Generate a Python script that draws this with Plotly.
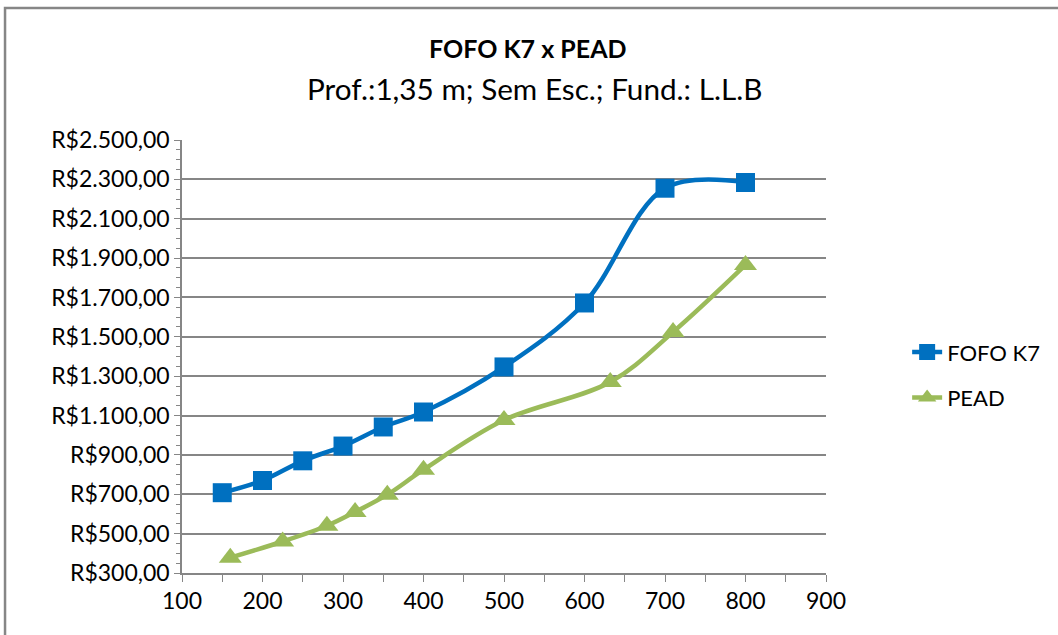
import plotly.graph_objects as go

fofo_x = [150, 200, 250, 300, 350, 400, 500, 600, 700, 800]
fofo_y = [708, 770, 870, 945, 1042, 1118, 1347, 1672, 2255, 2284]
pead_x = [160, 225, 280, 315, 355, 400, 500, 632, 710, 800]
pead_y = [378, 460, 540, 610, 698, 825, 1077, 1270, 1524, 1865]

y_ticks = list(range(300, 2501, 200))
y_labels = ["R$" + f"{v:,}".replace(",", ".") + ",00" for v in y_ticks]
x_ticks = list(range(100, 901, 100))

FONT = "Lato"
fig = go.Figure()
fig.add_trace(go.Scatter(
    x=fofo_x, y=fofo_y, name="FOFO K7", mode="lines+markers", legendgroup="a",
    line=dict(color="#0070C0", width=4.5, shape="spline", smoothing=1.0),
    marker=dict(symbol="square", size=19, color="#0070C0"),
))
fig.add_trace(go.Scatter(
    x=pead_x, y=pead_y, name="PEAD", mode="lines+markers", legendgroup="b",
    line=dict(color="#9BBB59", width=4.5, shape="spline", smoothing=1.0),
    marker=dict(symbol="triangle-up", size=20, color="#9BBB59"),
))

grid = "#868686"
fig.update_layout(
    width=1058, height=635,
    margin=dict(l=182, r=232, t=140, b=62),
    paper_bgcolor="white", plot_bgcolor="white",
    font=dict(family=FONT, size=22, color="black"),
    showlegend=True,
    legend=dict(x=1.126, y=0.457, xanchor="left", yanchor="middle",
                font=dict(family=FONT, size=22), traceorder="grouped",
                tracegroupgap=14, bgcolor="rgba(0,0,0,0)"),
    xaxis=dict(range=[100, 900], tickvals=x_ticks, showgrid=False,
               showline=True, linecolor=grid, linewidth=1.5,
               ticks="outside", ticklen=7, tickcolor=grid,
               minor=dict(dtick=50, tick0=100, ticks="outside", ticklen=7, tickcolor=grid),
               zeroline=False, tickfont=dict(size=23)),
    yaxis=dict(range=[300, 2500], tickvals=y_ticks, ticktext=y_labels,
               showgrid=True, gridcolor=grid, gridwidth=1.5,
               showline=True, linecolor=grid, linewidth=1.5,
               ticks="outside", ticklen=6, tickcolor=grid,
               minor=dict(dtick=50, tick0=300, ticks="outside", ticklen=4, tickcolor=grid, showgrid=False),
               zeroline=False, tickfont=dict(size=23)),
)
fig.add_annotation(text="<b>FOFO K7 x PEAD</b>", xref="paper", yref="paper",
                   x=0.537, y=1.2125, xanchor="center", yanchor="middle",
                   showarrow=False, font=dict(family=FONT, size=25, color="black"))
fig.add_annotation(text="Prof.:1,35 m; Sem Esc.; Fund.: L.L.B", xref="paper", yref="paper",
                   x=0.5466, y=1.12, xanchor="center", yanchor="middle",
                   showarrow=False, font=dict(family=FONT, size=29.7, color="black"))
fig.add_shape(type="rect", xref="paper", yref="paper",
              x0=-0.2748, x1=1.6, y0=-0.5, y1=1.3048,
              line=dict(color="#868686", width=2.5), fillcolor="rgba(0,0,0,0)", layer="below")
fig.write_html("out.html", config={"displayModeBar": False},
               post_script="document.body.style.margin='0';")
